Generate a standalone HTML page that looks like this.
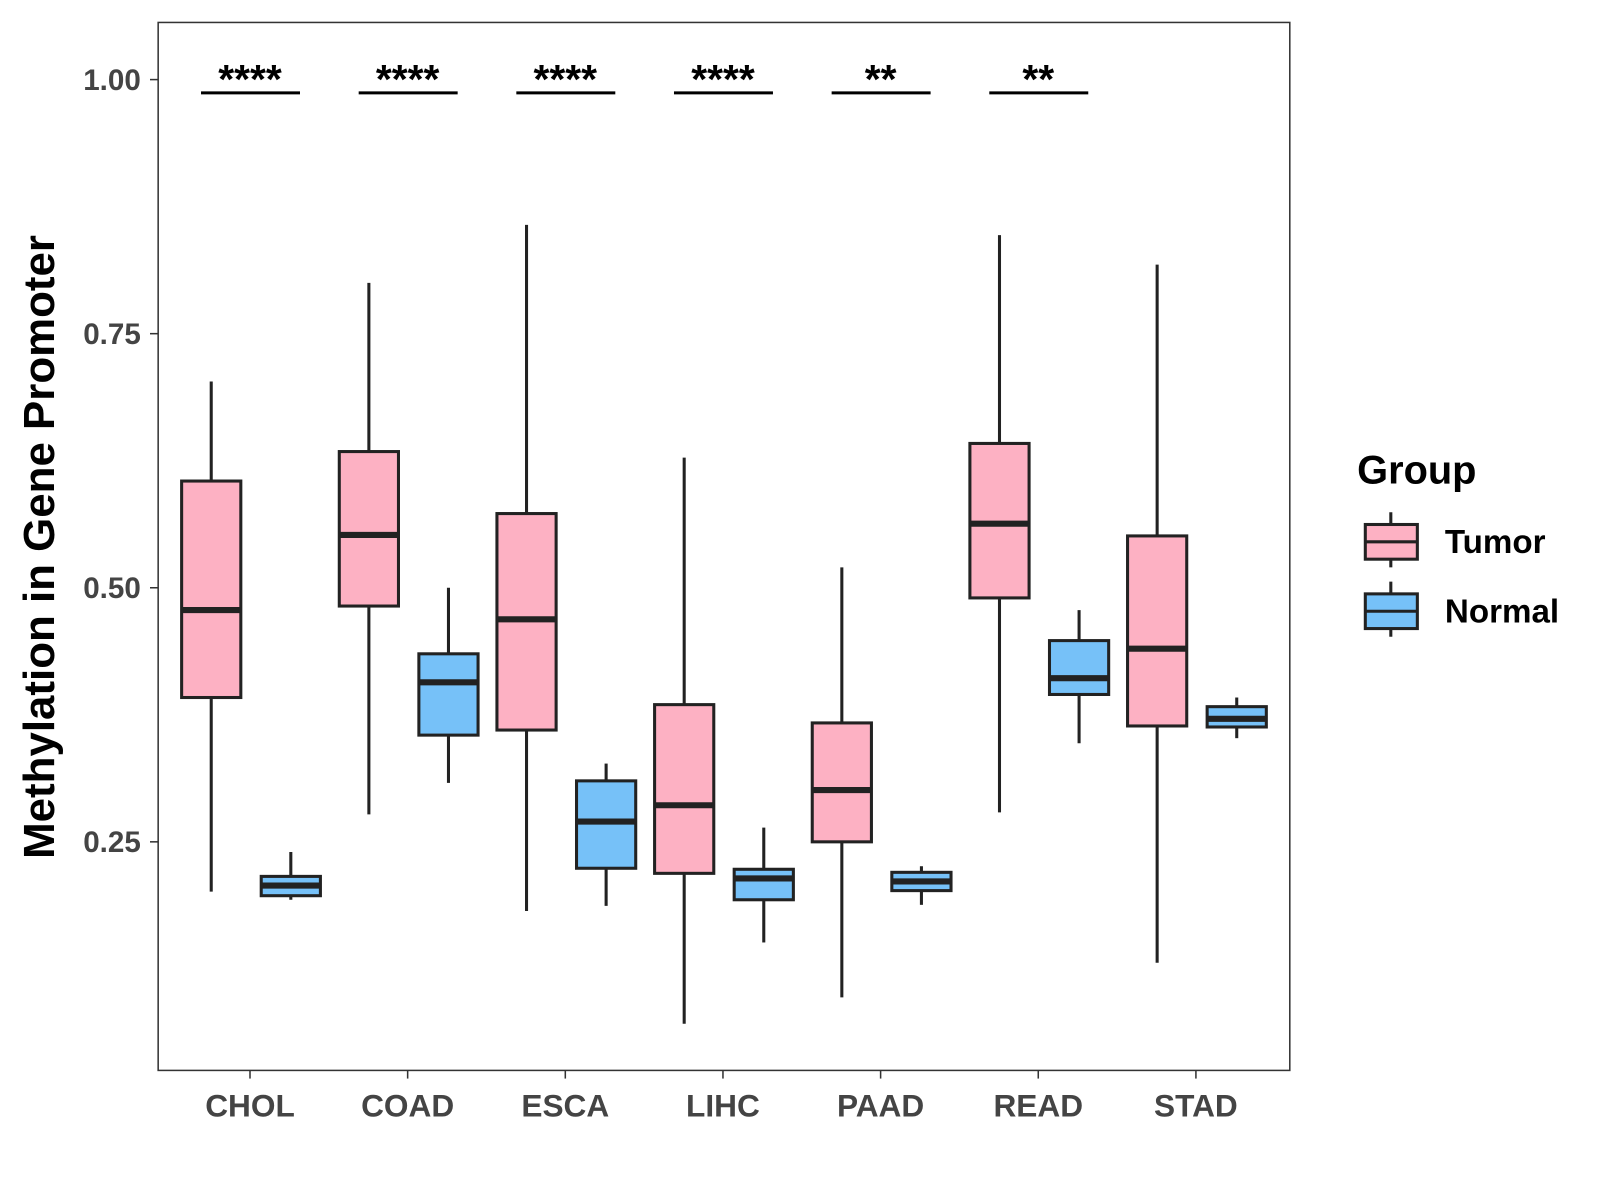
<!DOCTYPE html>
<html><head><meta charset="utf-8"><style>
html,body{margin:0;padding:0;background:#fff;width:1600px;height:1200px;overflow:hidden}
svg{font-family:"Liberation Sans",Arial,sans-serif;display:block}
</style></head><body>
<svg id="chart" width="1600" height="1200" viewBox="0 0 1568 1176"></svg>
<script>
const categories = ["CHOL","COAD","ESCA","LIHC","PAAD","READ","STAD"];
// [whiskerLow, Q1, median, Q3, whiskerHigh]
const tumorStats = [
  [0.201,0.392,0.478,0.605,0.703],
  [0.277,0.482,0.552,0.634,0.800],
  [0.182,0.360,0.469,0.573,0.857],
  [0.071,0.219,0.286,0.385,0.628],
  [0.097,0.250,0.301,0.367,0.520],
  [0.279,0.490,0.563,0.642,0.847],
  [0.131,0.364,0.440,0.551,0.818]
];
const normalStats = [
  [0.193,0.197,0.207,0.216,0.240],
  [0.308,0.355,0.407,0.435,0.500],
  [0.187,0.224,0.270,0.310,0.327],
  [0.151,0.193,0.214,0.223,0.264],
  [0.188,0.202,0.211,0.220,0.226],
  [0.347,0.395,0.411,0.448,0.478],
  [0.352,0.363,0.371,0.383,0.392]
];
const significance = ["****","****","****","****","**","**",""];
const yTicks = [0.25,0.50,0.75,1.00];
const yTickLabels = ["0.25","0.50","0.75","1.00"];

const NS="http://www.w3.org/2000/svg";
const svg=document.getElementById('chart');
function mk(tag,attrs,parent){const e=document.createElementNS(NS,tag);for(const k in attrs)e.setAttribute(k,attrs[k]);(parent||svg).appendChild(e);return e;}
const P={l:155,t:22,r:1264,b:1049};
const y=v=>78+(1-v)*996;
const xc=i=>245+i*154.5;

const panel=mk('rect',{x:P.l,y:P.t,width:P.r-P.l,height:P.b-P.t,fill:'#fff',stroke:'#333','stroke-width':1.5});



yTicks.forEach((v,i)=>{
  const tk=mk('line',{x1:P.l-8,x2:P.l,y1:y(v),y2:y(v),stroke:'#333','stroke-width':1.5});
  
  
  const t=mk('text',{x:P.l-17,y:y(v)+10,'text-anchor':'end','font-size':29,'font-weight':'bold',fill:'#444'});
  t.textContent=yTickLabels[i];
  
  
});

function box(cx,s,fill,name){
  const g=mk('g',{});
  
  
  const w=58;
  mk('line',{x1:cx,x2:cx,y1:y(s[4]),y2:y(s[3]),stroke:'#222','stroke-width':3},g);
  mk('line',{x1:cx,x2:cx,y1:y(s[1]),y2:y(s[0]),stroke:'#222','stroke-width':3},g);
  mk('rect',{x:cx-w/2,y:y(s[3]),width:w,height:y(s[1])-y(s[3]),fill:fill,stroke:'#222','stroke-width':3},g);
  mk('line',{x1:cx-w/2,x2:cx+w/2,y1:y(s[2]),y2:y(s[2]),stroke:'#222','stroke-width':6},g);
}

categories.forEach((c,i)=>{
  const x=xc(i);
  box(x-38,tumorStats[i],'#fdb1c3','box-tumor-'+c.toLowerCase());
  box(x+40,normalStats[i],'#76c1f8','box-normal-'+c.toLowerCase());
  const tk=mk('line',{x1:x,x2:x,y1:P.b,y2:P.b+8,stroke:'#333','stroke-width':1.5});
  
  
  const t=mk('text',{x:x,y:1094,'text-anchor':'middle','font-size':31,'font-weight':'bold',fill:'#444'});
  t.textContent=c;
  
  
  if(significance[i]){
    const l=mk('line',{x1:x-48,x2:x+49,y1:91,y2:91,stroke:'#000','stroke-width':3});
    
    
    const st=mk('text',{x:x,y:91,'text-anchor':'middle','font-size':40,'font-weight':'bold',fill:'#000'});
    st.textContent=significance[i];
    
    
  }
});

const yt=mk('text',{x:0,y:0,transform:'translate(53,536) rotate(-90)','text-anchor':'middle','font-size':43,'font-weight':'bold',fill:'#000'});
yt.textContent='Methylation in Gene Promoter';



const lg=mk('g',{});


const lt=mk('text',{x:1330,y:474,'font-size':39,'font-weight':'bold',fill:'#000'},lg);
lt.textContent='Group';
[['Tumor','#fdb1c3',531],['Normal','#76c1f8',599]].forEach(([n,f,cy])=>{
  const e=mk('g',{},lg);
  
  
  mk('line',{x1:1363,x2:1363,y1:cy-29,y2:cy+25,stroke:'#222','stroke-width':3},e);
  mk('rect',{x:1338,y:cy-17,width:51,height:34,fill:f,stroke:'#222','stroke-width':3},e);
  mk('line',{x1:1338,x2:1389,y1:cy,y2:cy,stroke:'#222','stroke-width':3},e);
  const t=mk('text',{x:1416,y:cy+11,'font-size':32.5,'font-weight':'bold',fill:'#000'},e);
  t.textContent=n;
});
</script>
</body></html>
